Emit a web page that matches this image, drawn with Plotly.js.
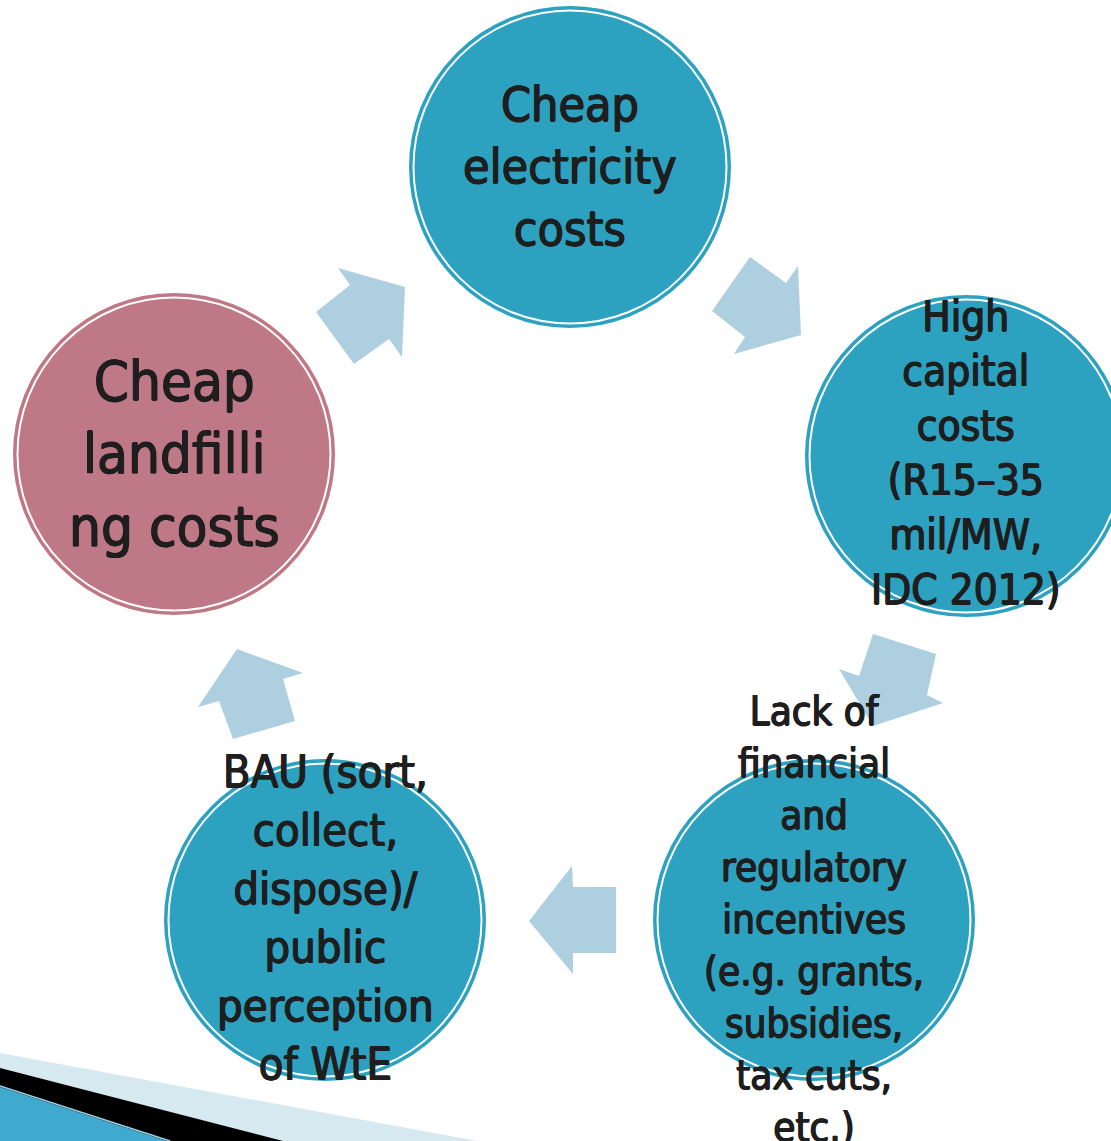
<!DOCTYPE html>
<html>
<head>
<meta charset="utf-8">
<script src="https://cdn.plot.ly/plotly-3.0.1.min.js"></script>
<style>html,body{margin:0;padding:0;background:#fff;}#chart{width:1111px;height:1141px;}</style>
</head>
<body>
<div id="chart"></div>
<script>
// ---- Diagram content ----
const nodeNames = ["electricity", "capital", "incentives", "bau", "landfill"];
const nodeLabels = [
  "Cheap<br>electricity<br>costs",
  "High<br>capital<br>costs<br>(R15–35<br>mil/MW,<br>IDC 2012)",
  "Lack of<br>financial<br>and<br>regulatory<br>incentives<br>(e.g. grants,<br>subsidies,<br>tax cuts,<br>etc.)",
  "BAU (sort,<br>collect,<br>dispose)/<br>public<br>perception<br>of WtE",
  "Cheap<br>landfilli<br>ng costs"
];
const nodeKinds = ["teal", "teal", "teal", "teal", "pink"];

// ---- Layout (positions / sizes / styles) ----
const W = 1111, H = 1141;
const geom = {
  electricity: {cx: 570, cy: 167, r: 160, fs: 48, tx: 570, ty: 166},
  capital:     {cx: 966, cy: 456, r: 160, fs: 42, tx: 966, ty: 453},
  incentives:  {cx: 814, cy: 920, r: 160, fs: 40, tx: 814, ty: 919},
  bau:         {cx: 325, cy: 920, r: 160, fs: 45, tx: 325, ty: 918},
  landfill:    {cx: 174, cy: 454, r: 160, fs: 56, tx: 174, ty: 453}
};
const colors = {teal: "#2DA2C0", pink: "#BF7885", arrow: "#AECFDF", text: "#1E1E1E"};

const arrowPaths = [
  "M338,268 L350,285 L316,312 L354,364 L389,339 L402,357 L405,287 Z",
  "M750,257 L786,283 L798,266 L801,335 L734,354 L745,337 L712,311 Z",
  "M873,634 L936,654 L927,695 L943,703 L873,726 L839,669 L859,676 Z",
  "M572,866 L573,887 L616,887 L616,953 L573,953 L573,974 L529,921 Z",
  "M237,649 L303,673 L283,679 L295,721 L233,739 L219,701 L198,707 Z"
];

const shapes = [];
// corner decoration
shapes.push({type: "path", path: "M0,1053 L477,1141 L0,1141 Z", fillcolor: "#D6E9F1", line: {width: 0}});
shapes.push({type: "path", path: "M0,1068 L283,1141 L0,1141 Z", fillcolor: "#000000", line: {width: 0}});
shapes.push({type: "path", path: "M0,1087 L167,1141 L0,1141 Z", fillcolor: "#3FAACD", line: {width: 0}});
shapes.push({type: "line", x0: 0, y0: 1086, x1: 170, y1: 1141, line: {color: "#9FD3E6", width: 1.5}});

arrowPaths.forEach(p => shapes.push({type: "path", path: p, fillcolor: colors.arrow, line: {width: 0}}));

const annotations = [];
nodeNames.forEach((n, i) => {
  const g = geom[n];
  const c = colors[nodeKinds[i]];
  shapes.push({type: "circle", xref: "x", yref: "y",
    x0: g.cx - g.r, x1: g.cx + g.r, y0: g.cy - g.r, y1: g.cy + g.r,
    fillcolor: c, line: {color: c, width: 2}});
  shapes.push({type: "circle", xref: "x", yref: "y",
    x0: g.cx - g.r + 3.5, x1: g.cx + g.r - 3.5, y0: g.cy - g.r + 3.5, y1: g.cy + g.r - 3.5,
    fillcolor: "rgba(0,0,0,0)", line: {color: "#ffffff", width: 2}});
  annotations.push({x: g.tx, y: g.ty, xref: "x", yref: "y", text: nodeLabels[i],
    showarrow: false, xanchor: "center", yanchor: "middle", align: "center",
    font: {family: "DejaVu Sans Condensed, DejaVu Sans, sans-serif", size: g.fs, color: colors.text,
      shadow: "0.7px 0 0 #1E1E1E, -0.7px 0 0 #1E1E1E, 0 0.5px 0 #1E1E1E, 0 -0.5px 0 #1E1E1E"}});
});

const layout = {
  width: W, height: H,
  margin: {l: 0, r: 0, t: 0, b: 0, pad: 0},
  paper_bgcolor: "#ffffff", plot_bgcolor: "#ffffff",
  xaxis: {range: [0, W], visible: false, fixedrange: true},
  yaxis: {range: [H, 0], visible: false, fixedrange: true},
  showlegend: false,
  shapes: shapes,
  annotations: annotations
};
Plotly.newPlot("chart", [{x: [], y: [], type: "scatter", mode: "markers", hoverinfo: "skip"}], layout, {staticPlot: true, displayModeBar: false});
</script>
</body>
</html>
